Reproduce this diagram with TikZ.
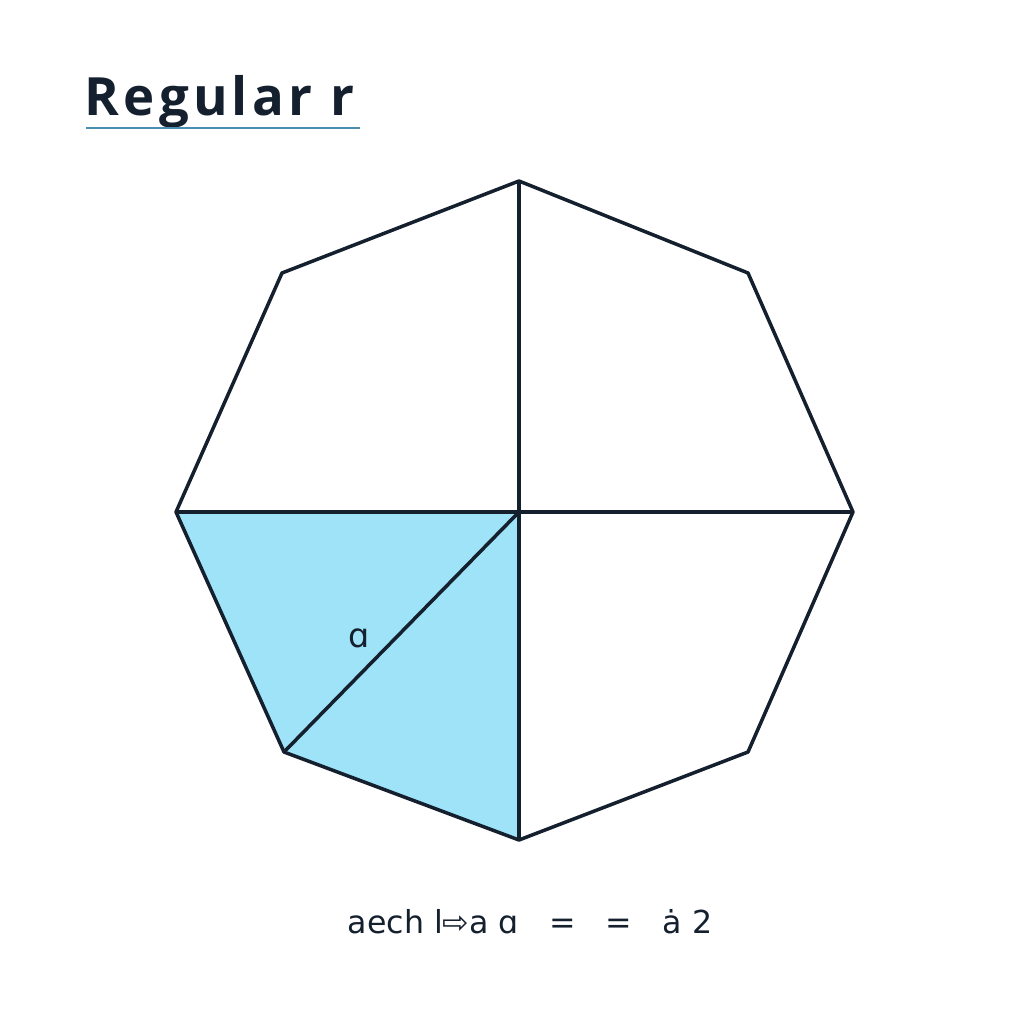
\documentclass[tikz,border=0pt]{standalone}
\usepackage{fontspec}
\setmainfont{DejaVu Sans}
\newfontfamily\titlefont[LetterSpace=8]{Open Sans}
\definecolor{edgecol}{HTML}{15202E}
\definecolor{wedgecol}{HTML}{9FE3F8}
\definecolor{rulecol}{HTML}{4A8FB2}
\begin{document}
\begin{tikzpicture}[x=0.01cm,y=-0.01cm,
	edge/.style={draw=edgecol,line width=1pt,line join=round},
	lbl/.style={text=edgecol,inner sep=0pt,anchor=base}]
	\useasboundingbox (0,0) rectangle (1024,1024);

	\coordinate (c) at (519,512);
	\coordinate (v1) at (519,181);
	\coordinate (v2) at (748,273);
	\coordinate (v3) at (853,512);
	\coordinate (v4) at (748,752);
	\coordinate (v5) at (519,840);
	\coordinate (v6) at (284,752);
	\coordinate (v7) at (176,512);
	\coordinate (v8) at (282,273);

	\fill[wedgecol] (v7) -- (c) -- (v5) -- (v6) -- cycle;
	\draw[edge] (v1) -- (v2) -- (v3) -- (v4) -- (v5) -- (v6) -- (v7) -- (v8) -- cycle;
	\draw[edge] (v1) -- (v5);
	\draw[edge] (v7) -- (v3);
	\draw[edge] (c) -- (v6);

	\node[lbl,anchor=base west] (title) at (84,115) {\titlefont\bfseries\fontsize{15}{18}\selectfont Regular r};
	\draw[rulecol,line width=0.8pt] (86,128) -- (360,128);

	\node[lbl] (alpha) at (359,647) {\fontsize{9.5}{11}\selectfont ɑ};
	\node[lbl] (formula) at (530,933) {\fontsize{9}{11}\selectfont aech l⇨a ɑ \ \ = \ \ = \ \ ȧ 2};
\end{tikzpicture}
\end{document}
